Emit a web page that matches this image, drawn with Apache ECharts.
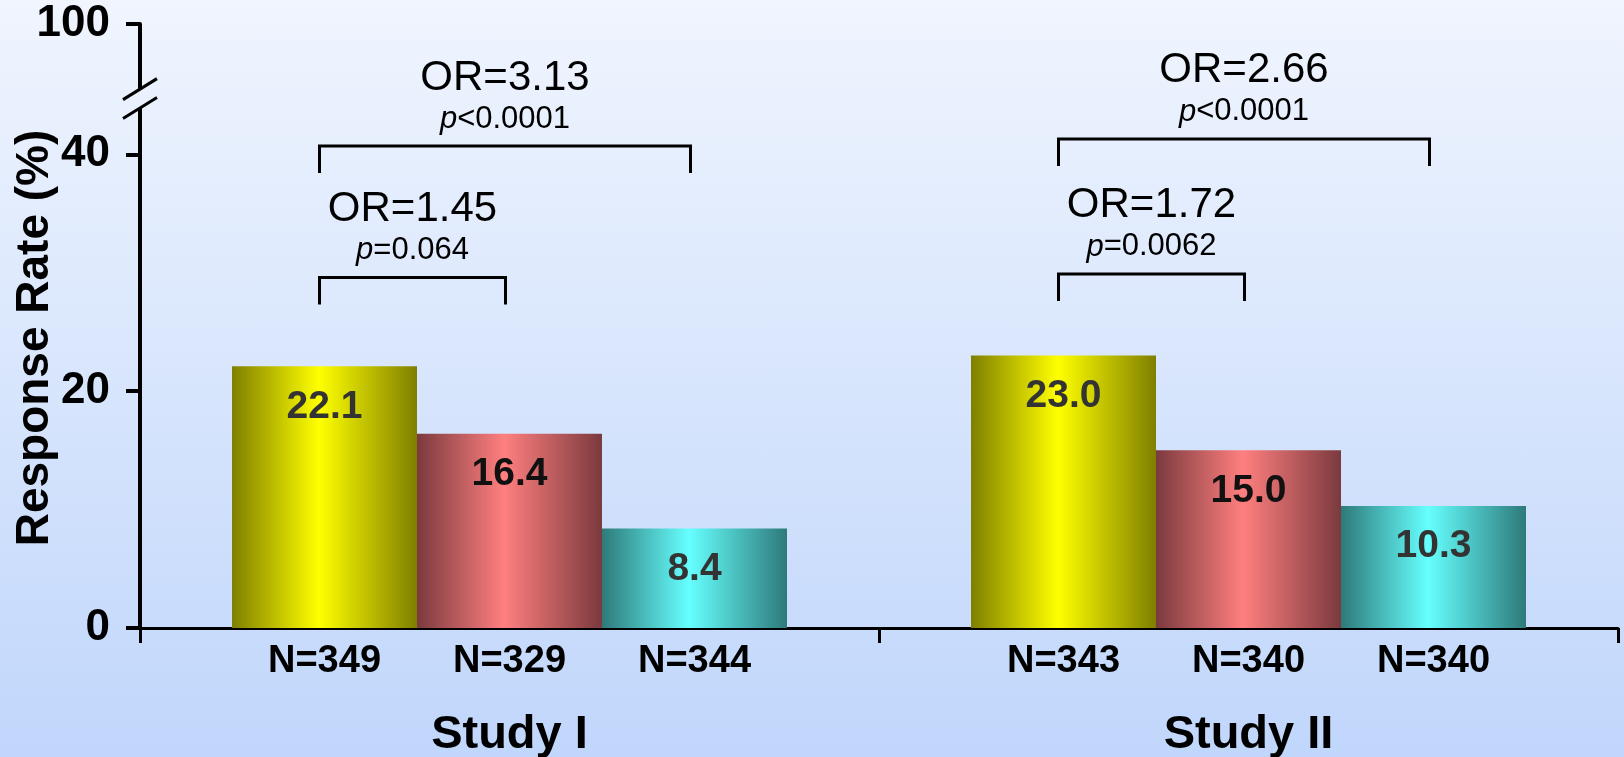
<!DOCTYPE html>
<html lang="en">
<head>
    <meta charset="UTF-8">
    <title>Response Rate</title>
    <style>
        html, body {
            margin: 0;
            padding: 0;
        }
        body {
            background: linear-gradient(#f0f5fe, #c0d6fb);
        }
        #main {
            width: 1624px;
            height: 757px;
        }
    </style>
</head>
<body>
<div id="main"></div>
<script src="https://cdn.jsdelivr.net/npm/echarts@6.0.0/dist/echarts.min.js"></script>
<script>
    var categories = ['Study I', 'Study II'];
    var seriesNames = ['Arm 1', 'Arm 2', 'Arm 3'];
    // response rate (%) per arm, [Study I, Study II]
    var rates = [
        [22.1, 23.0],
        [16.4, 15.0],
        [8.4, 10.3]
    ];
    var nCounts = [
        [349, 343],
        [329, 340],
        [344, 340]
    ];
    // the top tick stands for 100 above the axis break
    var yTickValues = [0, 20, 40, 51];
    var yTickLabels = ['0', '20', '40', '100'];

    // odds ratio brackets
    var bracketGroup = [0, 0, 1, 1];
    var bracketFrom = [0, 0, 0, 0];
    var bracketTo = [2, 1, 2, 1];
    var bracketLevel = [40.7, 29.6, 41.3, 29.9];
    var orText = ['OR=3.13', 'OR=1.45', 'OR=2.66', 'OR=1.72'];
    var pText = ['<0.0001', '=0.064', '<0.0001', '=0.0062'];

    var FONT = 'Liberation Sans, Arial, sans-serif';
    var BAR_W = 185;
    var barColors = [
        ['#7f7f00', '#ffff00'],
        ['#7b3a3e', '#ff7f7f'],
        ['#2e7a7a', '#66ffff']
    ];
    var labelColors = ['#333', '#111', '#333'];

    var myChart = echarts.init(document.getElementById('main'));

    var series = [];
    for (var i = 0; i < 3; i++) {
        // zero-height bar only used to carry the N= label under the axis
        series.push({
            name: seriesNames[i] + ' N',
            type: 'bar',
            stack: 's' + i,
            barWidth: BAR_W,
            barGap: '0%',
            data: rates[i].map(function () { return 0; }),
            itemStyle: {color: 'transparent'},
            silent: true,
            label: {
                show: true,
                position: 'bottom',
                distance: 15,
                fontFamily: FONT,
                fontSize: 38,
                fontWeight: 'bold',
                color: '#000',
                formatter: (function (k) {
                    return function (p) { return 'N=' + nCounts[k][p.dataIndex]; };
                })(i)
            }
        });
        series.push({
            name: seriesNames[i],
            type: 'bar',
            stack: 's' + i,
            barWidth: BAR_W,
            barGap: '0%',
            data: rates[i],
            itemStyle: {
                color: new echarts.graphic.LinearGradient(0, 0, 1, 0, [
                    {offset: 0, color: barColors[i][0]},
                    {offset: 0.47, color: barColors[i][1]},
                    {offset: 1, color: barColors[i][0]}
                ])
            },
            label: {
                show: true,
                position: 'insideTop',
                distance: 21,
                fontFamily: FONT,
                fontSize: 39,
                fontWeight: 'bold',
                color: labelColors[i],
                formatter: function (p) { return p.value.toFixed(1); }
            }
        });
    }

    // brackets with odds ratio text
    series.push({
        type: 'custom',
        clip: false,
        silent: true,
        data: bracketGroup.map(function (g, k) {
            return [g, bracketLevel[k], bracketFrom[k], bracketTo[k]];
        }),
        renderItem: function (params, api) {
            var k = params.dataIndex;
            var pt = api.coord([api.value(0), api.value(1)]);
            var xl = pt[0] + (api.value(2) - 1) * BAR_W - 5;
            var xr = pt[0] + (api.value(3) - 1) * BAR_W - 4;
            var y = pt[1];
            var cx = (xl + xr) / 2;
            return {
                type: 'group',
                children: [
                    {
                        type: 'polyline',
                        shape: {points: [[xl, y + 27], [xl, y], [xr, y], [xr, y + 27]]},
                        style: {stroke: '#000', lineWidth: 3, fill: null}
                    },
                    {
                        type: 'text',
                        style: {
                            text: orText[k],
                            x: cx, y: y - 68,
                            align: 'center', verticalAlign: 'middle',
                            fontFamily: FONT, fontSize: 42, fill: '#000'
                        }
                    },
                    {
                        type: 'text',
                        style: {
                            text: '{i|p}{r|' + pText[k] + '}',
                            x: cx, y: y - 27,
                            align: 'center', verticalAlign: 'middle',
                            fill: '#000',
                            rich: {
                                i: {fontFamily: FONT, fontSize: 31, fontStyle: 'italic', fill: '#000'},
                                r: {fontFamily: FONT, fontSize: 31, fill: '#000'}
                            }
                        }
                    }
                ]
            };
        }
    });

    var option = {
        animation: false,
        backgroundColor: 'transparent',
        grid: {
            left: 140,
            right: 6,
            top: 24,
            bottom: 129,
            outerBoundsMode: 'none'
        },
        xAxis: {
            type: 'category',
            data: categories,
            axisLine: {lineStyle: {color: '#000', width: 3}},
            axisTick: {show: true, length: 15, lineStyle: {color: '#000', width: 3}},
            axisLabel: {
                margin: 84,
                fontFamily: FONT,
                fontSize: 47,
                fontWeight: 'bold',
                color: '#000'
            }
        },
        yAxis: {
            type: 'value',
            min: 0,
            max: yTickValues[yTickValues.length - 1],
            name: 'Response Rate (%)',
            nameLocation: 'middle',
            nameRotate: 90,
            nameGap: 82,
            nameMoveOverlap: false,
            nameTextStyle: {
                fontFamily: FONT,
                fontSize: 46,
                fontWeight: 'bold',
                color: '#000',
                padding: [0, 24, 0, 0]
            },
            splitLine: {show: false},
            axisLine: {show: true, lineStyle: {color: '#000', width: 4}},
            axisTick: {
                show: true,
                length: 14,
                customValues: yTickValues,
                lineStyle: {color: '#000', width: 4}
            },
            axisLabel: {
                margin: 30,
                customValues: yTickValues,
                padding: [10, 0, 0, 0],
                fontFamily: FONT,
                fontSize: 44,
                fontWeight: 'bold',
                color: '#000',
                formatter: function (v) {
                    var idx = yTickValues.indexOf(v);
                    return idx >= 0 ? yTickLabels[idx] : '';
                }
            }
        },
        series: series
    };
    myChart.setOption(option);

    // axis break marks between 40 and the top tick
    var yHi = myChart.convertToPixel({yAxisIndex: 0}, 45.5);
    var yLo = myChart.convertToPixel({yAxisIndex: 0}, 43.9);
    var ax = 140;
    myChart.setOption({
        graphic: [
            {
                type: 'rect',
                shape: {x: ax - 5, y: yHi, width: 10, height: yLo - yHi},
                style: {fill: '#eaf0fe'},
                z: 100
            },
            {
                type: 'line',
                shape: {x1: ax - 17, y1: yHi + 10.5, x2: ax + 17, y2: yHi - 10.5},
                style: {stroke: '#000', lineWidth: 3},
                z: 101
            },
            {
                type: 'line',
                shape: {x1: ax - 17, y1: yLo + 10.5, x2: ax + 17, y2: yLo - 10.5},
                style: {stroke: '#000', lineWidth: 3},
                z: 101
            }
        ]
    });
</script>
</body>
</html>
